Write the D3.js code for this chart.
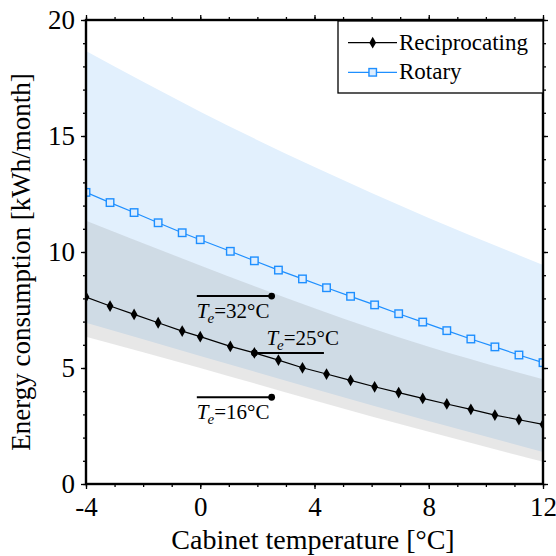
<!DOCTYPE html>
<html>
<head>
<meta charset="utf-8">
<script src="https://cdn.jsdelivr.net/npm/d3@7"></script>
<style>
  html, body { margin: 0; padding: 0; background: #fff; }
  svg { display: block; }
  text { font-family: "Liberation Serif", "Times New Roman", serif; fill: #000; }
</style>
</head>
<body>
<svg id="chart" width="556" height="556"></svg>
<script>
// Cabinet temperature samples [°C]
const temps = [-4, -3.158, -2.316, -1.474, -0.632, 0, 1.053, 1.895, 2.737, 3.579,
               4.421, 5.263, 6.105, 6.947, 7.789, 8.632, 9.474, 10.316, 11.158, 12];
// Monthly energy consumption [kWh/month]
const reciprocating = [8.06, 7.67, 7.31, 6.95, 6.59, 6.35, 5.93, 5.65, 5.34, 5.01,
                       4.74, 4.47, 4.19, 3.94, 3.69, 3.45, 3.22, 2.97, 2.77, 2.57];
const rotary = [12.57, 12.13, 11.70, 11.26, 10.83, 10.53, 10.03, 9.62, 9.22, 8.84,
                8.46, 8.09, 7.72, 7.34, 6.98, 6.61, 6.25, 5.91, 5.56, 5.23];

// Envelope between T_e = 16 °C (lower) and T_e = 32 °C (upper)
const bandTemps = [-4, 0, 4, 8, 12];
const rotaryUpper = [18.66, 16.05, 13.66, 11.47, 9.44];
const rotaryLower = [6.95, 5.52, 4.10, 2.72, 1.38];
const recipUpper = [11.35, 9.42, 7.58, 5.92, 4.51];
const recipLower = [6.35, 5.00, 3.60, 2.25, 0.96];

// Axis ticks
const xMajor = [-4, 0, 4, 8, 12];
const xMinor = d3.range(-4, 13, 1);
const yMajor = [0, 5, 10, 15, 20];
const yMinor = d3.range(0, 21, 1);

// Evaporating-temperature labels: [x0, x1, y] of the leader line
const labelNames = ["32", "25", "16"];
const labelLines = [[-0.12, 2.5, 8.10], [1.895, 4.33, 5.65], [-0.12, 2.5, 3.74]];

const svg = d3.select("#chart");
const L = 86, R = 543, T = 20, B = 484;
const x = d3.scaleLinear().domain([-4, 12]).range([L, R]);
const y = d3.scaleLinear().domain([0, 20]).range([B, T]);

const plot = svg.append("g");
svg.append("clipPath").attr("id", "clip")
  .append("rect").attr("x", L).attr("y", T).attr("width", R - L).attr("height", B - T);
plot.attr("clip-path", "url(#clip)");

function band(upper, lower) {
  return d3.area()
    .x((d, i) => x(bandTemps[i]))
    .y0((d, i) => y(lower[i]))
    .y1((d, i) => y(upper[i]))
    .curve(d3.curveNatural)(upper);
}

plot.append("path").attr("d", band(rotaryUpper, rotaryLower)).attr("fill", "#e2f0fd");
plot.append("path").attr("d", band(recipUpper, recipLower))
  .attr("fill", "#868686").attr("fill-opacity", 0.2);

const line = d3.line().x((d, i) => x(temps[i])).y(d => y(d));

// Rotary series
plot.append("path").attr("d", line(rotary))
  .attr("fill", "none").attr("stroke", "#1e8fff").attr("stroke-width", 1.2);
const sq = 7.5;
plot.selectAll(".sq").data(rotary).join("rect")
  .attr("x", (d, i) => x(temps[i]) - sq / 2)
  .attr("y", d => y(d) - sq / 2)
  .attr("width", sq).attr("height", sq)
  .attr("fill", "#dcedff").attr("stroke", "#1e8fff").attr("stroke-width", 1.4);

// Reciprocating series
plot.append("path").attr("d", line(reciprocating))
  .attr("fill", "none").attr("stroke", "#000").attr("stroke-width", 1.2);
const diamond = d3.symbol().type(d3.symbolDiamond).size(40);
plot.selectAll(".dm").data(reciprocating).join("path")
  .attr("d", diamond)
  .attr("transform", (d, i) => `translate(${x(temps[i])},${y(d)})`)
  .attr("fill", "#000");

// Leader lines and labels
const ann = svg.append("g");
labelLines.forEach((ln, k) => {
  const [x0, x1, yv] = ln;
  ann.append("line")
    .attr("x1", x(x0)).attr("x2", x(x1)).attr("y1", y(yv)).attr("y2", y(yv))
    .attr("stroke", "#000").attr("stroke-width", 2);
  const dotX = k === 1 ? x0 : x1;
  ann.append("circle").attr("cx", x(dotX)).attr("cy", y(yv)).attr("r", 3.4).attr("fill", "#000");
  let tx, ty;
  if (k === 1) { tx = x(x0) + 12; ty = y(yv) - 8; }
  else { tx = x(x0); ty = y(yv) + 22; }
  const t = ann.append("text").attr("x", tx).attr("y", ty).attr("font-size", 21);
  t.append("tspan").attr("font-style", "italic").text("T");
  t.append("tspan").attr("font-style", "italic").attr("font-size", 15)
    .attr("dx", -1).attr("dy", 5).text("e");
  t.append("tspan").attr("dy", -5).text("=" + labelNames[k] + "°C");
});

// Axes: frame with outward ticks on all four sides
const axes = svg.append("g");
function addAxis(gen, tx, ty, vals, size, labels, pad) {
  const g = axes.append("g").attr("transform", `translate(${tx},${ty})`)
    .call(gen.tickValues(vals).tickSize(size).tickSizeOuter(0).tickPadding(pad || 6)
      .tickFormat(labels ? (d => String(d)) : () => ""));
  g.attr("font-family", null).attr("font-size", null);
  g.select(".domain").remove();
  g.selectAll(".tick line").attr("stroke", "#000").attr("stroke-width", 1.3);
  g.selectAll(".tick text").attr("font-size", 27);
  return g;
}
addAxis(d3.axisBottom(x), 0, B, xMinor, 3, false);
addAxis(d3.axisBottom(x), 0, B, xMajor, 5, true, 8);
addAxis(d3.axisTop(x), 0, T, xMinor, 3, false);
addAxis(d3.axisTop(x), 0, T, xMajor, 5, false);
addAxis(d3.axisLeft(y), L, 0, yMinor, 3, false);
addAxis(d3.axisLeft(y), L, 0, yMajor, 5, true, 6);
addAxis(d3.axisRight(y), R, 0, yMinor, 3, false);
addAxis(d3.axisRight(y), R, 0, yMajor, 5, false);

axes.append("rect").attr("x", L).attr("y", T).attr("width", R - L).attr("height", B - T)
  .attr("fill", "none").attr("stroke", "#000").attr("stroke-width", 2.4);

// Axis titles
svg.append("text").attr("x", 313).attr("y", 549).attr("text-anchor", "middle")
  .attr("font-size", 28).text("Cabinet temperature [°C]");
svg.append("text").attr("transform", "translate(30,262) rotate(-90)")
  .attr("text-anchor", "middle").attr("font-size", 27).text("Energy consumption [kWh/month]");

// Legend
const lg = svg.append("g");
lg.append("rect").attr("x", 338).attr("y", 21).attr("width", 205).attr("height", 72)
  .attr("fill", "#fff").attr("stroke", "#000").attr("stroke-width", 1.3);
const legendItems = [
  { name: "Reciprocating", color: "#000", mark: "diamond", yy: 42.7 },
  { name: "Rotary", color: "#1e8fff", mark: "square", yy: 72.3 }
];
legendItems.forEach(it => {
  lg.append("line").attr("x1", 348).attr("x2", 397).attr("y1", it.yy).attr("y2", it.yy)
    .attr("stroke", it.color).attr("stroke-width", 1.2);
  if (it.mark === "diamond") {
    lg.append("path").attr("d", diamond).attr("transform", `translate(372.7,${it.yy})`).attr("fill", "#000");
  } else {
    lg.append("rect").attr("x", 372.7 - sq / 2).attr("y", it.yy - sq / 2).attr("width", sq).attr("height", sq)
      .attr("fill", "#dcedff").attr("stroke", "#1e8fff").attr("stroke-width", 1.4);
  }
  lg.append("text").attr("x", 399).attr("y", it.yy + 7).attr("font-size", 23).text(it.name);
});
</script>
</body>
</html>
